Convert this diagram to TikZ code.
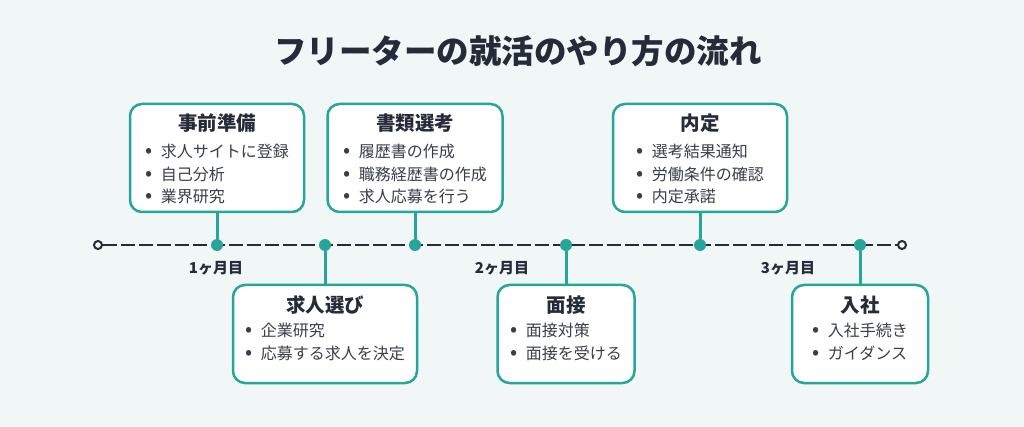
\documentclass[tikz,border=0pt]{standalone}
\usepackage{fontspec}
\setmainfont{Noto Sans CJK JP}
\usetikzlibrary{positioning}
\definecolor{flowteal}{HTML}{26A69A}
\definecolor{paper}{HTML}{F1F6F6}
\definecolor{ink}{HTML}{262B3A}
\definecolor{softink}{HTML}{3A3E4B}
\newcommand{\dotitem}{{\fontsize{21}{22.5}\selectfont•}\hspace{0.55em}}

\begin{document}
\begin{tikzpicture}[x = 1pt, y = -1pt,
                        card/.style = {draw = flowteal, line width = 2.5pt, fill = white, rounded corners = 12pt, minimum height = 108pt},
                        lowcard/.style = {card, minimum height = 98pt},
                        dot/.style = {circle, fill = flowteal, inner sep = 0pt, minimum size = 12pt},
                        tip/.style = {circle, draw = ink, line width = 2pt, fill = white, inner sep = 0pt, minimum size = 8pt},
                        head/.style = {font = \fontsize{19.5}{22}\selectfont\bfseries, text = ink, inner sep = 0pt},
                        items/.style = {font = \fontsize{16}{22.5}\selectfont, text = softink, align = left, inner sep = 0pt, anchor = north},
                        month/.style = {font = \fontsize{15}{16}\selectfont\bfseries, text = ink, inner sep = 0pt},
                        link/.style = {draw = flowteal, line width = 3pt}]
      \fill [paper] (0, 0) rectangle (1024, 427);
      \node [font = \fontsize{32.5}{36}\selectfont\bfseries, text = ink, inner sep = 0pt] (title) at (518, 51){フリーターの就活のやり方の流れ};

      % timeline
      \node [tip] (t0) at (98, 245){};
      \node [tip] (t1) at (902, 245){};
      \draw [ink, line width = 2.4pt, dash pattern = on 14pt off 4pt] (t0) -- (t1);
      \node [dot] (d1) at (217, 245){};
      \node [dot] (d2) at (325, 245){};
      \node [dot] (d3) at (415, 245){};
      \node [dot] (d4) at (566, 245){};
      \node [dot] (d5) at (700, 245){};
      \node [dot] (d6) at (860, 245){};
      \node [month] (m1) at (216, 268){1ヶ月目};
      \node [month] (m2) at (502, 268){2ヶ月目};
      \node [month] (m3) at (788, 268){3ヶ月目};

      % upper cards
      \node [card, minimum width = 174pt] (prep) at (217, 158){};
      \node [head] (prephead) at (217, 123){事前準備};
      \node [items] (prepitems) at (217, 144){\dotitem 求人サイトに登録\\\dotitem 自己分析\\\dotitem 業界研究};
      \draw [link] (prep) -- (d1);

      \node [card, minimum width = 175pt] (docs) at (415, 158){};
      \node [head] (docshead) at (415, 123){書類選考};
      \node [items] (docsitems) at (415, 144){\dotitem 履歴書の作成\\\dotitem 職務経歴書の作成\\\dotitem 求人応募を行う};
      \draw [link] (docs) -- (d3);

      \node [card, minimum width = 174pt] (offer) at (700, 158){};
      \node [head] (offerhead) at (700, 123){内定};
      \node [items] (offeritems) at (700, 144){\dotitem 選考結果通知\\\dotitem 労働条件の確認\\\dotitem 内定承諾};
      \draw [link] (offer) -- (d5);

      % lower cards
      \node [lowcard, minimum width = 184pt] (pick) at (325, 334){};
      \node [head] (pickhead) at (325, 305){求人選び};
      \node [items] (pickitems) at (325, 323){\dotitem 企業研究\\\dotitem 応募する求人を決定};
      \draw [link] (pick) -- (d2);

      \node [lowcard, minimum width = 137pt] (talk) at (566, 334){};
      \node [head] (talkhead) at (566, 305){面接};
      \node [items] (talkitems) at (566, 323){\dotitem 面接対策\\\dotitem 面接を受ける};
      \draw [link] (talk) -- (d4);

      \node [lowcard, minimum width = 136pt] (join) at (860, 334){};
      \node [head] (joinhead) at (860, 305){入社};
      \node [items] (joinitems) at (860, 323){\dotitem 入社手続き\\\dotitem ガイダンス};
      \draw [link] (join) -- (d6);
    \end{tikzpicture}
\end{document}
